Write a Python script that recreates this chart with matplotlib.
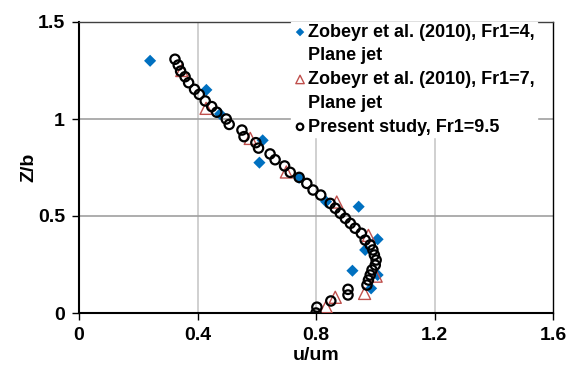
import matplotlib
matplotlib.use("Agg")
import matplotlib.pyplot as plt
from matplotlib import font_manager
from matplotlib.lines import Line2D

# ---------------- data ----------------
fr4_u = [0.24, 0.43, 0.476, 0.62, 0.609, 0.743, 0.834, 0.944, 1.008, 0.966, 0.923, 1.008, 0.986]
fr4_z = [1.30, 1.15, 1.026, 0.89, 0.775, 0.697, 0.574, 0.548, 0.38, 0.325, 0.218, 0.196, 0.127]

fr7_u = [0.347, 0.429, 0.578, 0.70, 0.870, 0.977, 1.003, 0.964, 0.865, 0.834]
fr7_z = [1.25, 1.055, 0.90, 0.727, 0.572, 0.40, 0.19, 0.101, 0.081, 0.032]

ps_u = [0.80, 0.803, 0.85, 0.908, 0.908, 0.972, 0.977, 0.983, 0.989, 1.0, 1.003, 0.997,
        0.992, 0.983, 0.966, 0.953, 0.932, 0.916, 0.899, 0.882, 0.865, 0.848, 0.816,
        0.79, 0.769, 0.743, 0.713, 0.694, 0.662, 0.645, 0.606, 0.597, 0.557, 0.55,
        0.507, 0.497, 0.465, 0.448, 0.426, 0.406, 0.39, 0.37, 0.358, 0.343, 0.335, 0.324]
ps_z = [0.0, 0.03, 0.062, 0.093, 0.122, 0.144, 0.17, 0.196, 0.222, 0.247, 0.273, 0.299,
        0.325, 0.351, 0.376, 0.411, 0.437, 0.462, 0.488, 0.514, 0.54, 0.565, 0.608,
        0.634, 0.668, 0.699, 0.725, 0.758, 0.79, 0.82, 0.85, 0.878, 0.909, 0.943,
        0.972, 1.0, 1.035, 1.064, 1.093, 1.127, 1.153, 1.187, 1.218, 1.247, 1.278, 1.308]

labels = ["Zobeyr et al. (2010), Fr1=4,\nPlane jet",
          "Zobeyr et al. (2010), Fr1=7,\nPlane jet",
          "Present study, Fr1=9.5"]
x_ticks = [0, 0.4, 0.8, 1.2, 1.6]
x_ticklabels = ["0", "0.4", "0.8", "1.2", "1.6"]
y_ticks = [0, 0.5, 1, 1.5]
y_ticklabels = ["0", "0.5", "1", "1.5"]

# ---------------- style ----------------
names = {f.name for f in font_manager.fontManager.ttflist}
fam = "Liberation Sans Narrow" if "Liberation Sans Narrow" in names else "Liberation Sans"
plt.rcParams["font.family"] = [fam, "DejaVu Sans"]
plt.rcParams["font.weight"] = "bold"

fig = plt.figure(figsize=(5.66, 3.78), dpi=100)
ax = fig.add_axes([79/566, 1-313/378, (553-79)/566, (313-22)/378])

ax.set_xlim(0, 1.6)
ax.set_ylim(0, 1.5)
ax.set_xticks(x_ticks)
ax.set_xticklabels(x_ticklabels)
ax.set_yticks(y_ticks)
ax.set_yticklabels(y_ticklabels)

for xv in x_ticks[1:-1]:
    ax.axvline(xv, color="#c8c8c8", lw=1.2, zorder=0)
for yv in y_ticks[1:-1]:
    ax.axhline(yv, color="#a0a0a0", lw=1.2, zorder=0)

h4 = ax.scatter(fr4_u, fr4_z, marker="D", s=38, color="#0070C0", edgecolors="none",
                label=labels[0], zorder=3)
h7 = ax.scatter(fr7_u, fr7_z, marker="^", s=75, facecolors="none", edgecolors="#C0504D",
                linewidths=1.0, label=labels[1], zorder=3)
hp = ax.scatter(ps_u, ps_z, marker="o", s=45, facecolors="none", edgecolors="black",
                linewidths=1.6, label=labels[2], zorder=4)

for s in ax.spines.values():
    s.set_color("black")
    s.set_linewidth(1.5)
ax.spines["top"].set_color("#404040")
ax.spines["top"].set_linewidth(1.0)
ax.spines["right"].set_linewidth(1.0)

ax.tick_params(axis="both", direction="out", length=5, width=1, labelsize=14,
               pad=5)
for t in ax.get_xticklabels() + ax.get_yticklabels():
    t.set_fontweight("bold")

ax.set_xlabel("u/um", fontsize=14, fontweight="bold", labelpad=2)
ax.set_ylabel("Z/b", fontsize=14, fontweight="bold", labelpad=0)

# legend: each text line as its own row so rows are evenly spaced
blank = Line2D([], [], linestyle="none", marker=None)
leg_handles, leg_labels = [], []
for h, lab in zip([h4, h7, hp], labels):
    parts = lab.split("\n")
    leg_handles.append(h)
    leg_labels.append(parts[0])
    for p in parts[1:]:
        leg_handles.append(blank)
        leg_labels.append(p)

leg = ax.legend(leg_handles, leg_labels, loc="upper left",
                bbox_to_anchor=((291-79)/474, 1.0), frameon=True,
                fancybox=False, edgecolor="white", framealpha=1.0,
                prop={"family": [fam, "DejaVu Sans"], "weight": "bold", "size": 13},
                handletextpad=0.05, labelspacing=0.37, borderpad=0.1,
                handlelength=0.8, markerscale=0.7, borderaxespad=0.0)
leg.set_zorder(5)

fig.savefig("out.png", dpi=100)
